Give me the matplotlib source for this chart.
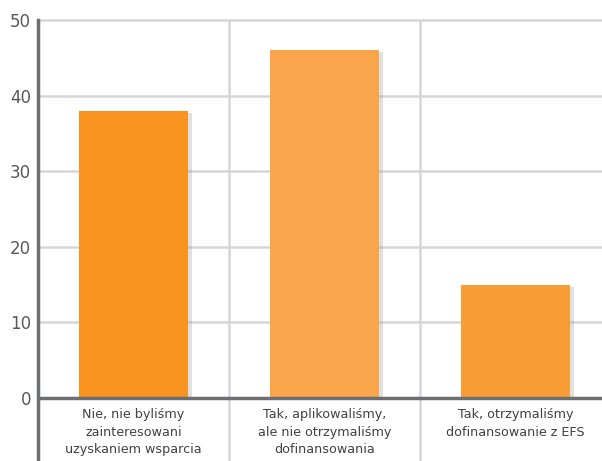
import matplotlib.pyplot as plt
import matplotlib.patheffects as pe
from matplotlib import font_manager

categories = [
    "Nie, nie byliśmy\nzainteresowani\nuzyskaniem wsparcia",
    "Tak, aplikowaliśmy,\nale nie otrzymaliśmy\ndofinansowania",
    "Tak, otrzymaliśmy\ndofinansowanie z EFS",
]
values = [38, 46, 15]
bar_colors = ["#F7931E", "#F8A54B", "#F79D34"]
y_ticks = [0, 10, 20, 30, 40, 50]

names = {f.name for f in font_manager.fontManager.ttflist}
label_font = "Liberation Sans Narrow" if "Liberation Sans Narrow" in names else "DejaVu Sans"

W, H = 602, 461
fig = plt.figure(figsize=(W / 100, H / 100), dpi=100)
# axes run a bit past the right edge, so the last column is cut off
ax = fig.add_axes([38 / W, 0, 573 / W, (H - 20) / H])

y_bottom = -(H - 398) / 7.56
ax.set_ylim(y_bottom, 50)
ax.set_xlim(-0.5, 2.5)

grid_c = "#D6D6D6"
axis_c = "#6D6E71"

for t in y_ticks[1:]:
    ax.axhline(t, color=grid_c, lw=1.8, zorder=1, clip_on=False)
for x in [0.5, 1.5]:
    ax.axvline(x, color=grid_c, lw=1.8, zorder=1)

bars = ax.bar(range(len(values)), values, width=0.57, color=bar_colors, zorder=2)
for b in bars:
    b.set_path_effects([pe.SimplePatchShadow(offset=(3, -1.5), shadow_rgbFace="#999999", alpha=0.3),
                        pe.Normal()])

ax.axhline(0, color=axis_c, lw=2.5, zorder=3)

for s in ["top", "right", "bottom"]:
    ax.spines[s].set_visible(False)
ax.spines["left"].set_color(axis_c)
ax.spines["left"].set_linewidth(2.5)

ax.set_xticks([])
ax.set_yticks(y_ticks)
ax.set_yticklabels([str(t) for t in y_ticks], fontsize=12, color="#58595B")
ax.tick_params(axis="y", length=0, pad=5)

for i, lab in enumerate(categories):
    ax.text(i, -1.35, lab, ha="center", va="top", fontsize=9.2, color="#414042",
            family=label_font, linespacing=1.45)

fig.savefig("out.png", dpi=100)
